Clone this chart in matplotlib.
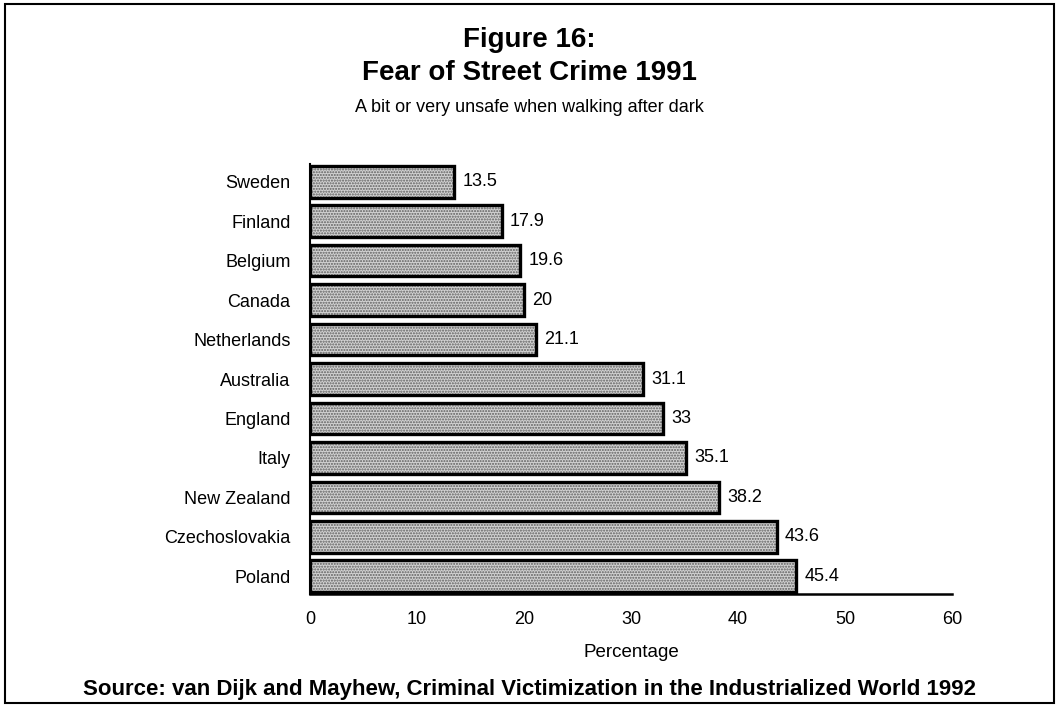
import matplotlib

matplotlib.use("Agg")
import matplotlib.pyplot as plt
from matplotlib.patches import Rectangle

plt.rcParams["font.family"] = ["Liberation Sans", "DejaVu Sans"]

countries = ["Sweden", "Finland", "Belgium", "Canada", "Netherlands", "Australia",
             "England", "Italy", "New Zealand", "Czechoslovakia", "Poland"]
values = [13.5, 17.9, 19.6, 20, 21.1, 31.1, 33, 35.1, 38.2, 43.6, 45.4]
value_labels = ["13.5", "17.9", "19.6", "20", "21.1", "31.1", "33", "35.1", "38.2", "43.6", "45.4"]
xticks = [0, 10, 20, 30, 40, 50, 60]

fig = plt.figure(figsize=(10.59, 7.06), dpi=100)
ax = fig.add_axes([0.2927, 0.1586, 0.6063, 0.6091])

ypos = list(range(len(countries)))
# stippled grey fill, then black outline on top
ax.barh(ypos, values, height=0.8, color="#d2d2d2", edgecolor="#5e5e5e",
        hatch="......", linewidth=0)
ax.barh(ypos, values, height=0.8, fill=False, edgecolor="black", linewidth=2.4)

for y, v, lab in zip(ypos, values, value_labels):
    ax.text(v + 0.8, y, lab, va="center", ha="left", fontsize=13)

ax.set_ylim(10.45, -0.45)
ax.set_xlim(0, 60)
ax.set_yticks(ypos)
ax.set_yticklabels(countries, fontsize=13)
ax.set_xticks(xticks)
ax.set_xticklabels([str(t) for t in xticks], fontsize=13)
ax.tick_params(axis="both", length=0)
ax.tick_params(axis="y", pad=14)
ax.tick_params(axis="x", pad=12)
for side in ["top", "right"]:
    ax.spines[side].set_visible(False)
ax.spines["left"].set_linewidth(1.5)
ax.spines["bottom"].set_linewidth(1.8)
ax.set_xlabel("Percentage", fontsize=13.5, labelpad=12)

fig.text(0.5, 0.943, "Figure 16:", ha="center", va="center", fontsize=20, fontweight="bold")
fig.text(0.5, 0.896, "Fear of Street Crime 1991", ha="center", va="center", fontsize=20,
         fontweight="bold")
fig.text(0.5, 0.848, "A bit or very unsafe when walking after dark", ha="center", va="center",
         fontsize=13)
fig.text(0.5, 0.024, "Source: van Dijk and Mayhew, Criminal Victimization in the Industrialized World 1992",
         ha="center", va="center", fontsize=16, fontweight="bold")

fig.add_artist(Rectangle((0.005, 0.004), 0.99, 0.991, transform=fig.transFigure,
                         fill=False, edgecolor="black", linewidth=1.5))

fig.savefig("out.png", dpi=100)
